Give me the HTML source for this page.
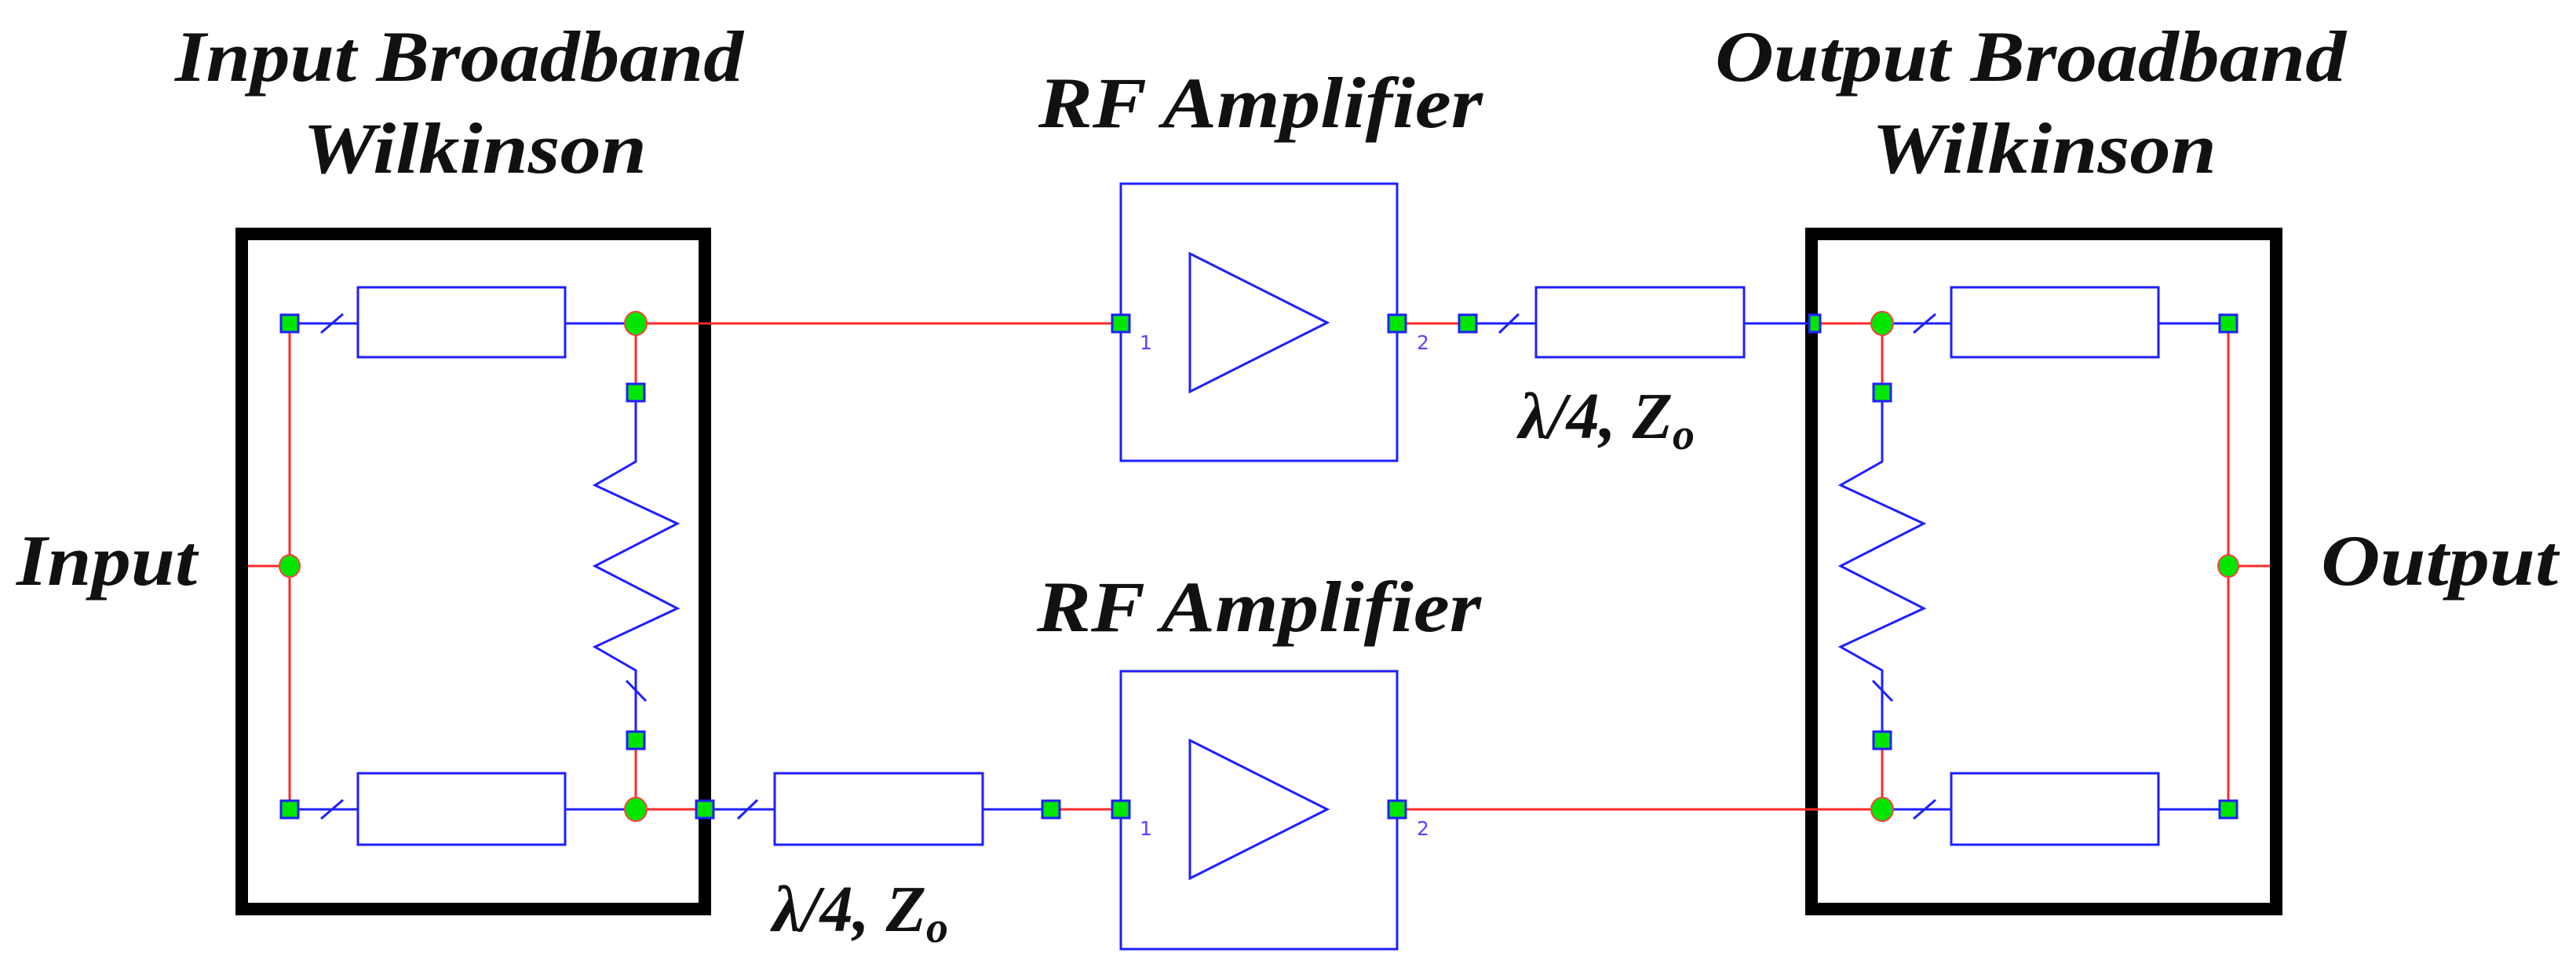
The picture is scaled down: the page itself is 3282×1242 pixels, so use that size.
<!DOCTYPE html>
<html><head><meta charset="utf-8"><style>html,body{margin:0;padding:0;background:#fff}svg{display:block}</style></head>
<body>
<svg width="3282" height="1242" viewBox="0 0 3282 1242" xmlns="http://www.w3.org/2000/svg">
<defs>
<style>
.t{font-family:"Liberation Serif",serif;font-weight:bold;font-style:italic;fill:#111}
.b{stroke:#1f1fff;stroke-width:3;fill:none}
.r{stroke:#ff2a2a;stroke-width:3;fill:none}
.sq{fill:#00e600;stroke:#1f1fff;stroke-width:3}
.c{fill:#00e600;stroke:#ff4040;stroke-width:2}
.n{font-family:"DejaVu Sans",sans-serif;font-size:25px;fill:#6040ff}
</style>
</defs>
<!-- Titles -->
<text class="t" x="223" y="103" font-size="92" textLength="724" lengthAdjust="spacingAndGlyphs">Input Broadband</text>
<text class="t" x="386" y="220" font-size="92" textLength="438" lengthAdjust="spacingAndGlyphs">Wilkinson</text>
<text class="t" x="2185" y="103" font-size="92" textLength="804" lengthAdjust="spacingAndGlyphs">Output Broadband</text>
<text class="t" x="2385" y="220" font-size="92" textLength="439" lengthAdjust="spacingAndGlyphs">Wilkinson</text>
<text class="t" x="1323" y="162" font-size="92" textLength="566" lengthAdjust="spacingAndGlyphs">RF Amplifier</text>
<text class="t" x="1321" y="804" font-size="92" textLength="566" lengthAdjust="spacingAndGlyphs">RF Amplifier</text>
<text class="t" x="21" y="745" font-size="92" textLength="230" lengthAdjust="spacingAndGlyphs">Input</text>
<text class="t" x="2957" y="745" font-size="92" textLength="302" lengthAdjust="spacingAndGlyphs">Output</text>
<text class="t" x="1935" y="558" font-size="84">λ/4, Z<tspan font-size="56" dy="14">o</tspan></text>
<text class="t" x="984" y="1186" font-size="84">λ/4, Z<tspan font-size="56" dy="14">o</tspan></text>

<!-- Black boxes -->
<rect x="308" y="298" width="590" height="860" fill="none" stroke="#000" stroke-width="16"/>
<rect x="2308" y="298" width="592" height="860" fill="none" stroke="#000" stroke-width="16"/>

<!-- Input Wilkinson -->
<line class="r" x1="369" y1="412" x2="369" y2="1031"/>
<line class="r" x1="316" y1="721" x2="369" y2="721"/>
<line class="b" x1="369" y1="412" x2="456" y2="412"/>
<line class="b" x1="409" y1="424" x2="437" y2="400"/>
<rect class="b" x="456" y="366" width="264" height="89"/>
<line class="b" x1="720" y1="412" x2="810" y2="412"/>
<line class="b" x1="369" y1="1031" x2="456" y2="1031"/>
<line class="b" x1="409" y1="1043" x2="437" y2="1019"/>
<rect class="b" x="456" y="985" width="264" height="91"/>
<line class="b" x1="720" y1="1031" x2="810" y2="1031"/>
<line class="r" x1="810" y1="412" x2="810" y2="500"/>
<line class="r" x1="810" y1="943" x2="810" y2="1031"/>
<polyline class="b" points="810,500 810,588 758,618 863,667 758,721 863,775 758,824 810,854 810,943"/>
<line class="b" x1="798" y1="867" x2="823" y2="893"/>
<!-- top red to amp -->
<line class="r" x1="810" y1="412" x2="1428" y2="412"/>
<!-- bottom -->
<line class="r" x1="810" y1="1031" x2="898" y2="1031"/>
<line class="b" x1="898" y1="1031" x2="987" y2="1031"/>
<line class="b" x1="940" y1="1043" x2="965" y2="1019"/>
<rect class="b" x="987" y="985" width="265" height="91"/>
<line class="b" x1="1252" y1="1031" x2="1339" y2="1031"/>
<line class="r" x1="1339" y1="1031" x2="1428" y2="1031"/>

<!-- Amplifiers -->
<rect class="b" x="1428" y="234" width="352" height="353"/>
<polygon class="b" points="1516,323 1516,499 1691,411"/>
<rect class="b" x="1428" y="855" width="352" height="354"/>
<polygon class="b" points="1516,943 1516,1119 1691,1031"/>
<text class="n" x="1452" y="445">1</text><text class="n" x="1805" y="445">2</text>
<text class="n" x="1452" y="1064">1</text><text class="n" x="1805" y="1064">2</text>

<!-- top output path -->
<line class="r" x1="1780" y1="412" x2="1870" y2="412"/>
<line class="b" x1="1870" y1="412" x2="1957" y2="412"/>
<line class="b" x1="1910" y1="424" x2="1935" y2="400"/>
<rect class="b" x="1957" y="366" width="265" height="89"/>
<line class="b" x1="2222" y1="412" x2="2315" y2="412"/>
<line class="r" x1="2315" y1="412" x2="2398" y2="412"/>
<!-- bottom output path -->
<line class="r" x1="1780" y1="1031" x2="2398" y2="1031"/>

<!-- Output Wilkinson -->
<line class="b" x1="2398" y1="412" x2="2486" y2="412"/>
<line class="b" x1="2438" y1="424" x2="2466" y2="400"/>
<rect class="b" x="2486" y="366" width="264" height="89"/>
<line class="b" x1="2750" y1="412" x2="2839" y2="412"/>
<line class="b" x1="2398" y1="1031" x2="2486" y2="1031"/>
<line class="b" x1="2438" y1="1043" x2="2466" y2="1019"/>
<rect class="b" x="2486" y="985" width="264" height="91"/>
<line class="b" x1="2750" y1="1031" x2="2839" y2="1031"/>
<line class="r" x1="2839" y1="412" x2="2839" y2="1031"/>
<line class="r" x1="2839" y1="721" x2="2892" y2="721"/>
<line class="r" x1="2398" y1="412" x2="2398" y2="500"/>
<line class="r" x1="2398" y1="943" x2="2398" y2="1031"/>
<polyline class="b" points="2398,500 2398,588 2345,618 2451,667 2345,721 2451,775 2345,824 2398,854 2398,943"/>
<line class="b" x1="2386" y1="867" x2="2411" y2="893"/>

<!-- Ports (squares) -->
<g>
<rect class="sq" x="358" y="401" width="22" height="22"/>
<rect class="sq" x="358" y="1020" width="22" height="22"/>
<rect class="sq" x="799" y="489" width="22" height="22"/>
<rect class="sq" x="799" y="932" width="22" height="22"/>
<rect class="sq" x="887" y="1020" width="22" height="22"/>
<rect class="sq" x="1328" y="1020" width="22" height="22"/>
<rect class="sq" x="1417" y="401" width="22" height="22"/>
<rect class="sq" x="1769" y="401" width="22" height="22"/>
<rect class="sq" x="1417" y="1020" width="22" height="22"/>
<rect class="sq" x="1769" y="1020" width="22" height="22"/>
<rect class="sq" x="1859" y="401" width="22" height="22"/>
<rect class="sq" x="2305" y="401" width="14" height="22"/>
<rect class="sq" x="2387" y="489" width="22" height="22"/>
<rect class="sq" x="2387" y="932" width="22" height="22"/>
<rect class="sq" x="2828" y="401" width="22" height="22"/>
<rect class="sq" x="2828" y="1020" width="22" height="22"/>
</g>
<!-- Junction circles -->
<ellipse class="c" cx="369" cy="721" rx="13" ry="14"/>
<ellipse class="c" cx="810" cy="412" rx="14" ry="15"/>
<ellipse class="c" cx="810" cy="1031" rx="14" ry="15"/>
<ellipse class="c" cx="2398" cy="412" rx="14" ry="15"/>
<ellipse class="c" cx="2398" cy="1031" rx="14" ry="15"/>
<ellipse class="c" cx="2839" cy="721" rx="13" ry="14"/>
</svg>
</body></html>
